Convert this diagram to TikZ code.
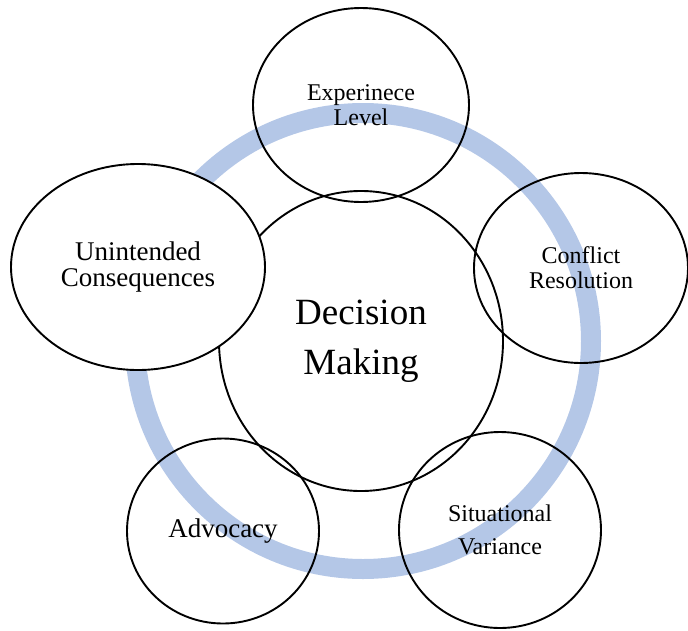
\documentclass[tikz,border=0pt]{standalone}
\usepackage{fontspec}
\setmainfont{Liberation Serif}
\usetikzlibrary{shapes.geometric}
\definecolor{ringblue}{RGB}{180,199,231}
\begin{document}
\begin{tikzpicture}[x=1pt,y=-1pt,
    topic/.style={ellipse, draw, line width=1.9pt, inner sep=0pt, align=center},
    smalltext/.style={font=\fontsize{24}{25}\selectfont},
    largetext/.style={font=\fontsize{27}{26}\selectfont}]
  \useasboundingbox (0,0) rectangle (688,630);
  % The pale ring behind all the circles
  \draw [ringblue, line width=20pt] (363,341) circle (228pt);
  % Centre circle
  \node [topic, minimum width=284pt, minimum height=300pt,
    font=\fontsize{37}{50}\selectfont] (decision) at (361,341) {Decision\\Making};
  % The circles round it (the ring shows through them)
  \foreach \name/\x/\y/\w/\h/\sty/\lab in {
    experience/361/105/216/194/smalltext/{Experinece\\Level},
    conflict/581/268/214/190/smalltext/{Conflict\\Resolution},
    variance/500/530/202/196/smalltext/{Situational\\[8pt]Variance},
    advocacy/223/531/192/185/largetext/{Advocacy}} {
    \node [topic, \sty, minimum width=\w pt, minimum height=\h pt] (\name) at (\x,\y) {\lab};
  }
  % This one sits on top and hides the ring
  \node [topic, largetext, fill=white, minimum width=254pt, minimum height=206pt]
    (consequences) at (138,267) {Unintended\\Consequences};
\end{tikzpicture}
\end{document}
